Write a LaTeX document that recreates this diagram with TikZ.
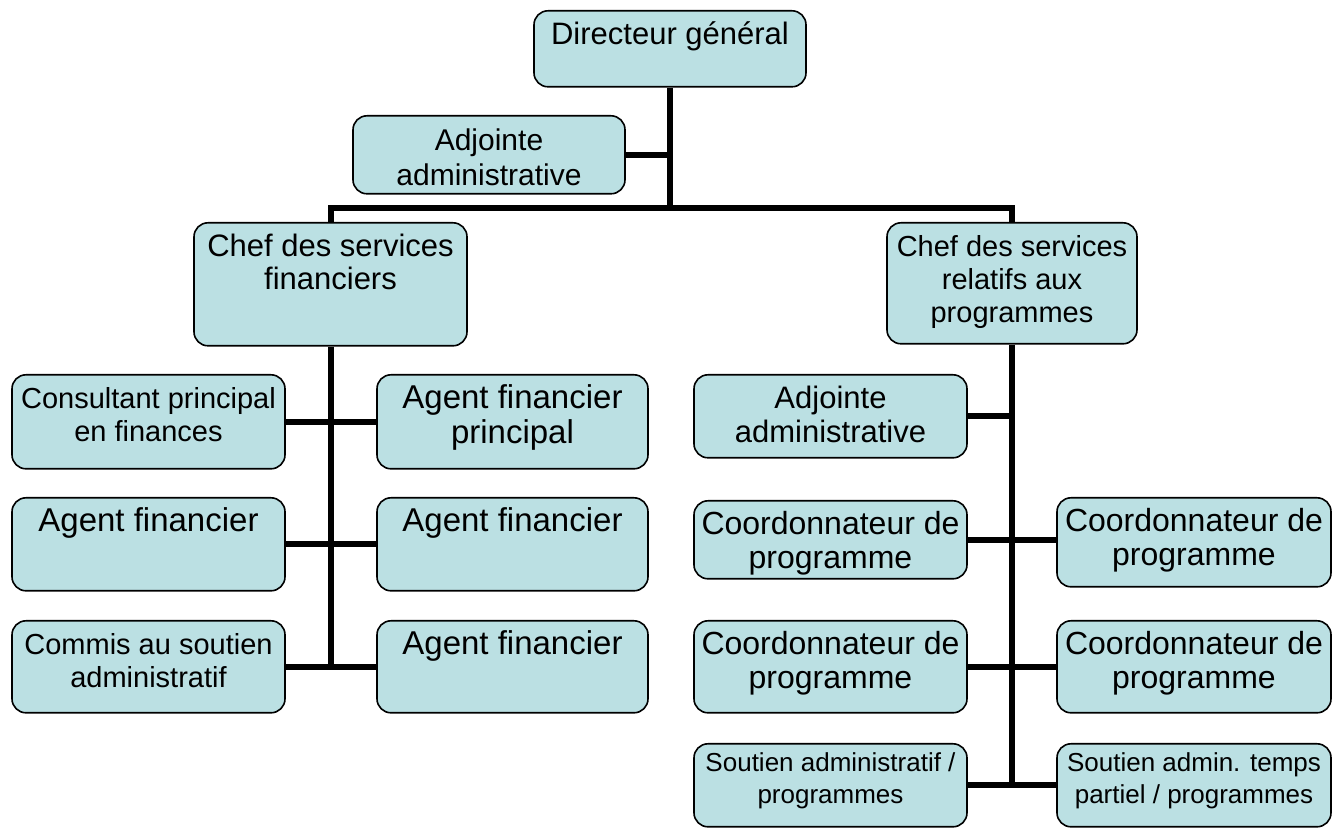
\documentclass[tikz,border=0pt]{standalone}
\usepackage{fontspec}
\setmainfont{Liberation Sans}
\usepackage{xcolor}
\usepackage{tikz}
\usetikzlibrary{positioning}
\definecolor{boxfill}{RGB}{187,224,227}

\begin{document}
\begin{tikzpicture}[
x=0.5pt,y=-0.5pt,
box/.style={draw,fill=boxfill,line width=0.8pt,rounded corners=7pt,align=center,anchor=north,inner xsep=2pt,inner ysep=3pt},
tb/.style 2 args={text height=#1,text depth=#2},
small/.style={font=\fontsize{13}{16}\selectfont},
conn/.style={line width=3pt}
]
\useasboundingbox (0,0) rectangle (1335,828);
\node[box,minimum width=136pt,tb={14pt}{18pt},font=\fontsize{15.5}{17}\selectfont] (dg) at (670,10) {Directeur général};
\node[box,minimum width=136pt,tb={32pt}{1pt},font=\fontsize{15}{17.5}\selectfont] (adjdg) at (489,115) {Adjointe\\administrative};
\coordinate (hub) at (670,208);
\node[box,minimum width=136.5pt,tb={30.5pt}{25pt},font=\fontsize{15.5}{16.5}\selectfont] (chfin) at (330.5,222) {Chef des services\\financiers};
\node[box,minimum width=125pt,tb={47pt}{7.5pt},font=\fontsize{14.5}{16.5}\selectfont] (chprog) at (1012,222) {Chef des services\\relatifs aux\\programmes};
\node[box,minimum width=136.5pt,tb={30.5pt}{10.5pt},font=\fontsize{14.5}{16.5}\selectfont] (cons) at (148.5,374) {Consultant principal\\en finances};
\node[box,minimum width=135.5pt,tb={31.5pt}{9.5pt},font=\fontsize{16.5}{17.5}\selectfont] (afp) at (512.5,374) {Agent financier\\principal};
\node[box,minimum width=136.5pt,tb={14pt}{26.5pt},font=\fontsize{16.5}{17.5}\selectfont] (af1) at (148.5,497) {Agent financier};
\node[box,minimum width=135.5pt,tb={14pt}{26.5pt},font=\fontsize{16.5}{17.5}\selectfont] (af2) at (512.5,497) {Agent financier};
\node[box,minimum width=136.5pt,tb={30.5pt}{9.5pt},font=\fontsize{14.5}{16.5}\selectfont] (commis) at (148.5,620) {Commis au soutien\\administratif};
\node[box,minimum width=135.5pt,tb={14pt}{26pt},font=\fontsize{16.5}{17.5}\selectfont] (af3) at (512.5,620) {Agent financier};
\node[box,minimum width=136.5pt,tb={31pt}{4.5pt},font=\fontsize{15.5}{17}\selectfont] (adjprog) at (830.5,374) {Adjointe\\administrative};
\node[box,minimum width=136.5pt,tb={31pt}{2pt},font=\fontsize{16}{17}\selectfont] (cp1) at (830.5,500) {Coordonnateur de\\programme};
\node[box,minimum width=137pt,tb={31pt}{7.5pt},font=\fontsize{16}{17}\selectfont] (cp2) at (1194,497) {Coordonnateur de\\programme};
\node[box,minimum width=136.5pt,tb={31pt}{9pt},font=\fontsize{16}{17}\selectfont] (cp3) at (830.5,620) {Coordonnateur de\\programme};
\node[box,minimum width=137pt,tb={31pt}{9pt},font=\fontsize{16}{17}\selectfont] (cp4) at (1194,620) {Coordonnateur de\\programme};
\node[box,small,minimum width=136.5pt,tb={27pt}{8.5pt}] (sap) at (830.5,743) {Soutien administratif /\\programmes};
\node[box,small,minimum width=137pt,tb={27pt}{8.5pt}] (satp) at (1194,743) {Soutien admin. temps\\partiel / programmes};
\draw[conn] (dg) -- (hub);
\draw[conn] (adjdg.east) -- (adjdg.east -| hub);
\draw[conn] (chfin) |- (hub) -| (chprog);
\draw[conn] (chfin) -- (chfin |- commis.east);
\draw[conn] (cons.east) -- (cons.east -| afp.west);
\draw[conn] (af1.east) -- (af1.east -| af2.west);
\draw[conn] (commis.east) -- (commis.east -| af3.west);
\draw[conn] (chprog) -- (chprog |- sap.east);
\draw[conn] (adjprog.east) -- (adjprog.east -| chprog);
\draw[conn] (cp1.east) -- (cp1.east -| cp2.west);
\draw[conn] (cp3.east) -- (cp3.east -| cp4.west);
\draw[conn] (sap.east) -- (sap.east -| satp.west);
\end{tikzpicture}
\end{document}
